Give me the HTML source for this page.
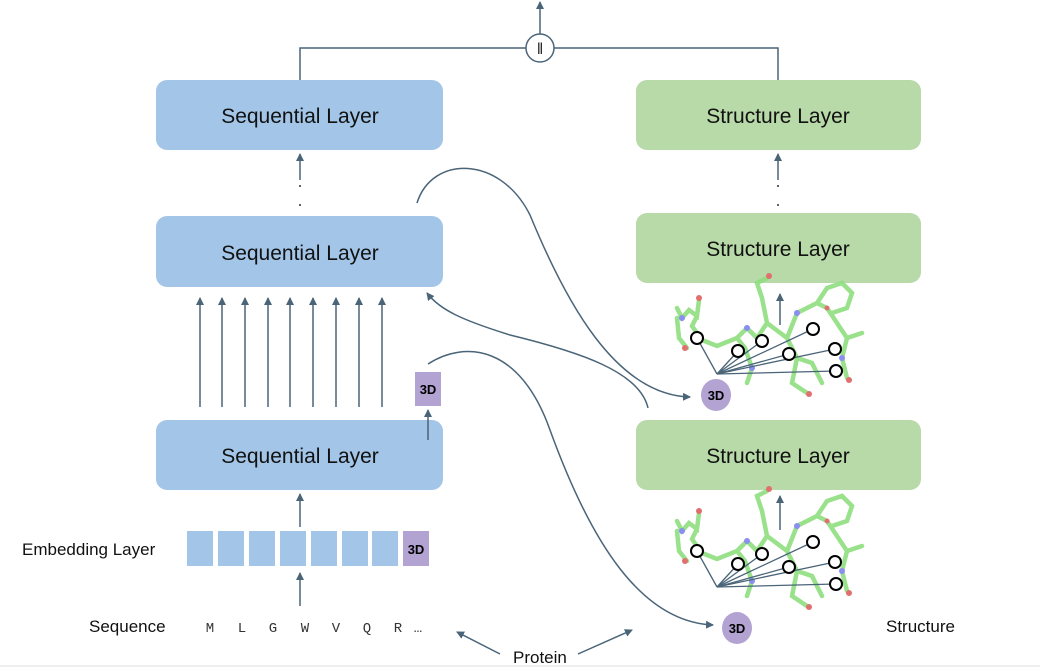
<!DOCTYPE html>
<html><head><meta charset="utf-8"><style>
body{margin:0;background:#fff;}
svg{display:block;font-family:"Liberation Sans",sans-serif;}
</style></head><body>
<svg width="1040" height="669" viewBox="0 0 1040 669" xmlns="http://www.w3.org/2000/svg">
<defs>
<marker id="a" markerWidth="8" markerHeight="8" refX="7" refY="4" orient="auto" markerUnits="userSpaceOnUse">
<path d="M0,0 L8,4 L0,8 z" fill="#4a6478"/></marker>
<g id="mol">
<g stroke="#8ede7e" stroke-width="4.5" fill="none" stroke-linecap="round" opacity="0.9">
<path d="M-20,-30 L-15,-20 L-8,-28 L0,-22 L2,-38 M-20,-20 L-18,0 L-10,10 M0,-22 L-5,-12 L5,2 L20,8 L40,0 L50,-10 L60,0 L70,-15 L65,-40 L60,-55 L70,-60 M40,0 L48,10 L55,30 L50,45 M70,-15 L90,0 L100,20 L95,45 L110,55 M90,0 L100,-25 L120,-35 L130,-30 M120,-35 L130,-50 L145,-55 L155,-45 L150,-30 L135,-25 M130,-30 L140,-15 L150,0 L145,20 L150,40 M150,0 L165,-5 M100,20 L115,25 L125,45"/>
</g>
<g fill="#e07070"><circle cx="2" cy="-40" r="3"/><circle cx="-12" cy="10" r="3"/><circle cx="72" cy="-62" r="3"/><circle cx="112" cy="56" r="3"/><circle cx="152" cy="42" r="3"/><circle cx="130" cy="-30" r="2.5"/></g>
<g fill="#8a8ef0"><circle cx="-15" cy="-20" r="3"/><circle cx="50" cy="-10" r="3"/><circle cx="55" cy="30" r="3"/><circle cx="100" cy="-25" r="3"/><circle cx="145" cy="20" r="3"/></g>
<g stroke="#4a6478" stroke-width="1.3">
<line x1="20" y1="36" x2="0" y2="0"/><line x1="20" y1="36" x2="41" y2="13"/><line x1="20" y1="36" x2="65" y2="3"/><line x1="20" y1="36" x2="92" y2="16"/><line x1="20" y1="36" x2="116" y2="-9"/><line x1="20" y1="36" x2="138" y2="11"/><line x1="20" y1="36" x2="139" y2="33"/>
</g>
<g fill="#fff" stroke="#000" stroke-width="2">
<circle cx="0" cy="0" r="6"/><circle cx="41" cy="13" r="6"/><circle cx="65" cy="3" r="6"/><circle cx="92" cy="16" r="6"/><circle cx="116" cy="-9" r="6"/><circle cx="138" cy="11" r="6"/><circle cx="139" cy="33" r="6"/>
</g>
</g>
</defs>
<line x1="0" y1="666" x2="1040" y2="666" stroke="#eee" stroke-width="2"/>
<g stroke="#4a6478" stroke-width="1.5" fill="none">
<path d="M300,80 V48 H526 M554,48 H778 V80"/>
<line x1="540" y1="34" x2="540" y2="2" marker-end="url(#a)"/>
</g>
<circle cx="540" cy="48" r="14" fill="#fff" stroke="#4a6478" stroke-width="1.5"/>
<text x="540" y="54" font-size="16" text-anchor="middle" fill="#222">‖</text>
<g font-size="21" text-anchor="middle" fill="#111">
<rect x="156" y="80" width="287" height="70" rx="11" fill="#a3c6e8"/>
<text x="300" y="123">Sequential Layer</text>
<rect x="156" y="216" width="287" height="71" rx="11" fill="#a3c6e8"/>
<text x="300" y="260">Sequential Layer</text>
<rect x="156" y="420" width="287" height="70" rx="11" fill="#a3c6e8"/>
<text x="300" y="463">Sequential Layer</text>
<rect x="636" y="80" width="285" height="70" rx="11" fill="#b8d9a8"/>
<text x="778" y="123">Structure Layer</text>
<rect x="636" y="213" width="285" height="70" rx="11" fill="#b8d9a8"/>
<text x="778" y="256">Structure Layer</text>
<rect x="636" y="420" width="285" height="70" rx="11" fill="#b8d9a8"/>
<text x="778" y="463">Structure Layer</text>
</g>
<g fill="#333"><circle cx="300" cy="186" r="1"/><circle cx="300" cy="205" r="1"/><circle cx="778" cy="186" r="1"/><circle cx="778" cy="205" r="1"/></g>
<g stroke="#4a6478" stroke-width="1.5" marker-end="url(#a)">
<line x1="300" y1="180" x2="300" y2="154"/>
<line x1="778" y1="180" x2="778" y2="154"/>
<line x1="200" y1="407" x2="200" y2="298"/><line x1="222" y1="407" x2="222" y2="298"/><line x1="245" y1="407" x2="245" y2="298"/><line x1="268" y1="407" x2="268" y2="298"/><line x1="290" y1="407" x2="290" y2="298"/><line x1="313" y1="407" x2="313" y2="298"/><line x1="336" y1="407" x2="336" y2="298"/><line x1="359" y1="407" x2="359" y2="298"/><line x1="382" y1="407" x2="382" y2="298"/>
<line x1="428" y1="440" x2="428" y2="410"/>
<line x1="300" y1="527" x2="300" y2="494"/>
<line x1="300" y1="606" x2="300" y2="573"/>
<line x1="780" y1="325" x2="780" y2="294"/>
<line x1="780" y1="530" x2="780" y2="496"/>
<line x1="500" y1="654" x2="457" y2="632"/>
<line x1="578" y1="654" x2="632" y2="630"/>
</g>
<g stroke="#4a6478" stroke-width="1.5" fill="none" marker-end="url(#a)">
<path d="M417,203 C432,155 500,155 530,215 C565,300 615,395 690,397"/>
<path d="M648,408 C640,372 580,352 510,335 C462,320 440,310 427,293"/>
<path d="M428,364 C465,340 520,345 550,430 C590,540 640,622 713,625"/>
</g>
<rect x="415" y="372" width="26" height="34" fill="#b3a3d3"/>
<text x="428" y="394" font-size="13" font-weight="bold" text-anchor="middle">3D</text>
<g fill="#a3c6e8">
<rect x="187" y="531" width="26" height="35"/><rect x="218" y="531" width="26" height="35"/><rect x="249" y="531" width="26" height="35"/><rect x="280" y="531" width="26" height="35"/><rect x="311" y="531" width="26" height="35"/><rect x="342" y="531" width="26" height="35"/><rect x="372" y="531" width="26" height="35"/>
</g>
<rect x="403" y="531" width="26" height="35" fill="#b3a3d3"/>
<text x="416" y="554" font-size="13" font-weight="bold" text-anchor="middle">3D</text>
<text x="22" y="555" font-size="17" fill="#111">Embedding Layer</text>
<text x="89" y="632" font-size="17" fill="#111">Sequence</text>
<g font-size="14" fill="#333" font-family="Liberation Mono,monospace" text-anchor="middle">
<text x="210" y="632">M</text><text x="242" y="632">L</text><text x="273" y="632">G</text><text x="305" y="632">W</text><text x="336" y="632">V</text><text x="367" y="632">Q</text><text x="398" y="632">R</text><text x="418" y="632">…</text>
</g>
<text x="513" y="663" font-size="17" fill="#111">Protein</text>
<text x="886" y="632" font-size="17" fill="#111">Structure</text>
<use href="#mol" transform="translate(697,338)"/>
<use href="#mol" transform="translate(697,551)"/>
<ellipse cx="716" cy="395" rx="15" ry="16" fill="#b3a3d3"/>
<text x="716" y="400" font-size="13" font-weight="bold" text-anchor="middle">3D</text>
<ellipse cx="737" cy="628" rx="15" ry="16" fill="#b3a3d3"/>
<text x="737" y="633" font-size="13" font-weight="bold" text-anchor="middle">3D</text>
</svg>
</body></html>
